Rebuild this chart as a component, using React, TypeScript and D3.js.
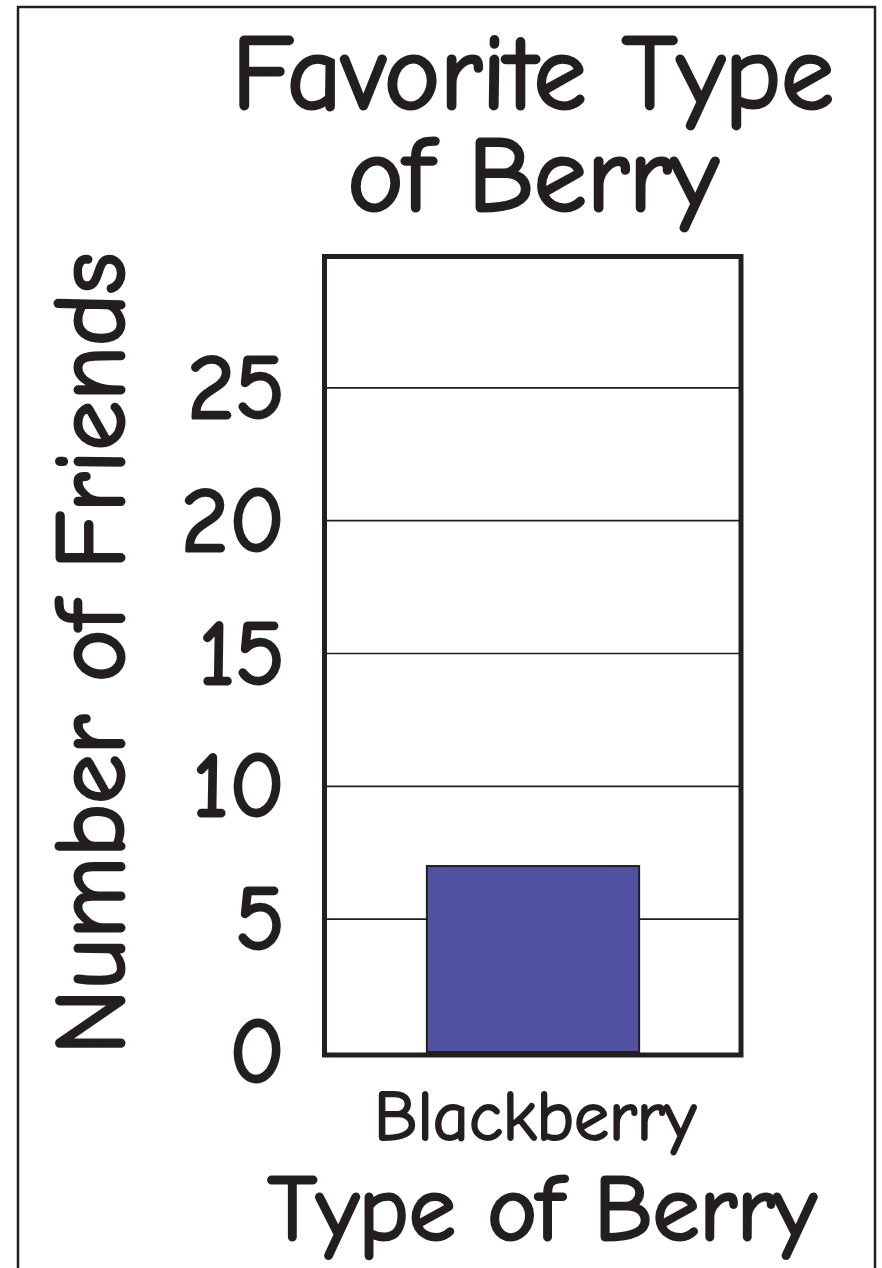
import React from 'react';
import * as d3 from 'd3';

const categories = ['Blackberry'];
const values = [7];
const yTicks = [0, 5, 10, 15, 20, 25];
const yMax = 30;
const titleLines = ['Favorite Type', 'of Berry'];
const xTitle = 'Type of Berry';
const yTitle = 'Number of Friends';

const W = 882;
const H = 1268;
const FONT = "'Comic Sans MS', 'Comic Neue', Lato, sans-serif";
const INK = '#231f20';

export default function App() {
  const x = d3.scaleBand<string>().domain(categories).range([327, 739]).padding(0.32);
  const y = d3.scaleLinear().domain([0, yMax]).range([1052, 255]);
  const cx = (x.range()[0] + x.range()[1]) / 2;

  // heavier glyphs, closer to the marker-style reference lettering
  const bold = (w: number) => ({ fill: INK, stroke: INK, strokeWidth: w, strokeLinejoin: 'round' as const });

  return (
    <svg
      width={W}
      height={H}
      style={{ position: 'absolute', left: 0, top: 0, background: '#fff' }}
      fontFamily={FONT}
    >
      {/* outer card border */}
      <rect x={18} y={7} width={857} height={H + 20} fill="none" stroke={INK} strokeWidth={2.5} />

      {/* title */}
      {titleLines.map((t, i) => (
        <text key={t} x={cx} y={108 + i * 102} textAnchor="middle" fontSize={106} {...bold(3)}>
          {t}
        </text>
      ))}

      {/* gridlines */}
      {yTicks.filter((t) => t > 0).map((t) => (
        <line key={t} x1={x.range()[0]} x2={x.range()[1]} y1={y(t)} y2={y(t)} stroke={INK} strokeWidth={1.6} />
      ))}

      {/* bars */}
      {categories.map((c, i) => (
        <rect
          key={c}
          x={x(c)}
          y={y(values[i])}
          width={x.bandwidth()}
          height={y(0) - y(values[i])}
          fill="#5151a1"
          stroke={INK}
          strokeWidth={2}
        />
      ))}

      {/* plot frame */}
      <rect
        x={324.5}
        y={y(yMax) + 1.5}
        width={416.5}
        height={y(0) - y(yMax) + 1.5}
        fill="none"
        stroke={INK}
        strokeWidth={5}
      />

      {/* y tick labels */}
      {yTicks.map((t) => (
        <text key={t} x={285} y={y(t)} textAnchor="end" dominantBaseline="central" fontSize={92} {...bold(3)}>
          {t}
        </text>
      ))}

      {/* category labels */}
      {categories.map((c) => (
        <text key={c} x={(x(c) ?? 0) + x.bandwidth() / 2 + 2} y={1140} textAnchor="middle" fontSize={70} {...bold(2)}>
          {c}
        </text>
      ))}

      {/* axis titles */}
      <text x={cx + 9} y={1240} textAnchor="middle" fontSize={94} {...bold(3)}>
        {xTitle}
      </text>
      <text
        transform={`translate(124, ${(y(0) + y(yMax)) / 2}) rotate(-90)`}
        textAnchor="middle"
        fontSize={99}
        {...bold(3)}
      >
        {yTitle}
      </text>
    </svg>
  );
}
